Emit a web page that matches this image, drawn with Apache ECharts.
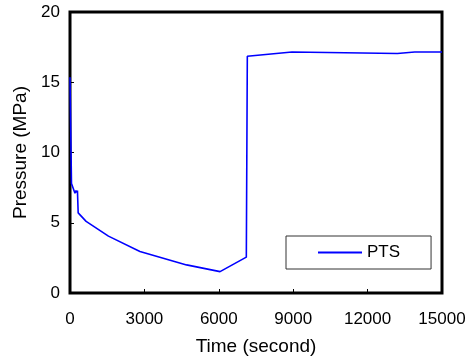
<!DOCTYPE html>
<html>
<head>
<meta charset="utf-8">
<script src="https://cdn.jsdelivr.net/npm/echarts@6/dist/echarts.min.js"></script>
<style>html,body{margin:0;padding:0;background:#fff}#c{width:470px;height:363px}</style>
</head>
<body>
<div id="c"></div>
<script>
var seriesName = 'PTS';
var timeSec = [0, 60, 200, 240, 270, 300, 330, 650, 1550, 2820, 4700, 6050, 7110, 7150, 8950, 13200, 13900, 15000];
var pressure = [15.35, 7.8, 7.1, 7.3, 7.15, 7.3, 5.7, 5.1, 4.05, 2.95, 2.0, 1.52, 2.55, 16.85, 17.15, 17.05, 17.15, 17.15];
var xTicks = [0, 3000, 6000, 9000, 12000, 15000];
var yTicks = [0, 5, 10, 15, 20];

var font = 'Liberation Sans, Arial, sans-serif';
var chart = echarts.init(document.getElementById('c'));
var pts = timeSec.map(function (t, i) { return [t, pressure[i]]; });
chart.setOption({
  animation: false,
  grid: { left: 70, right: 28, top: 12, bottom: 70, show: true, borderColor: '#000', borderWidth: 3, backgroundColor: 'transparent' },
  xAxis: {
    type: 'value', min: xTicks[0], max: xTicks[xTicks.length - 1], interval: 3000,
    name: 'Time (second)', nameLocation: 'middle', nameGap: 44,
    nameTextStyle: { color: '#000', fontSize: 19, fontFamily: font },
    axisLine: { show: false },
    axisTick: { show: true, inside: true, length: 4, lineStyle: { color: '#000', width: 1 } },
    axisLabel: { color: '#000', fontSize: 17, fontFamily: font, margin: 18, formatter: function (v) { return String(v); } },
    splitLine: { show: false }
  },
  yAxis: {
    type: 'value', min: yTicks[0], max: yTicks[yTicks.length - 1], interval: 5,
    name: 'Pressure (MPa)', nameLocation: 'middle', nameGap: 40,
    nameTextStyle: { color: '#000', fontSize: 19, fontFamily: font },
    axisLine: { show: false },
    axisTick: { show: true, inside: true, length: 4, lineStyle: { color: '#000', width: 1 } },
    axisLabel: { color: '#000', fontSize: 17, fontFamily: font, margin: 10 },
    splitLine: { show: false }
  },
  legend: {
    left: 286, top: 236, orient: 'horizontal',
    padding: [8, 31, 8, 32], itemWidth: 44, itemHeight: 2, itemGap: 0,
    icon: 'rect',
    borderColor: '#333', borderWidth: 1, backgroundColor: '#fff',
    textStyle: { color: '#000', fontSize: 17, fontFamily: font },
    data: [seriesName]
  },
  series: [{
    name: seriesName, type: 'line', data: pts, showSymbol: false, symbol: 'none',
    lineStyle: { color: '#0000FF', width: 1.6 }, itemStyle: { color: '#0000FF' }
  }]
});
</script>
</body>
</html>
